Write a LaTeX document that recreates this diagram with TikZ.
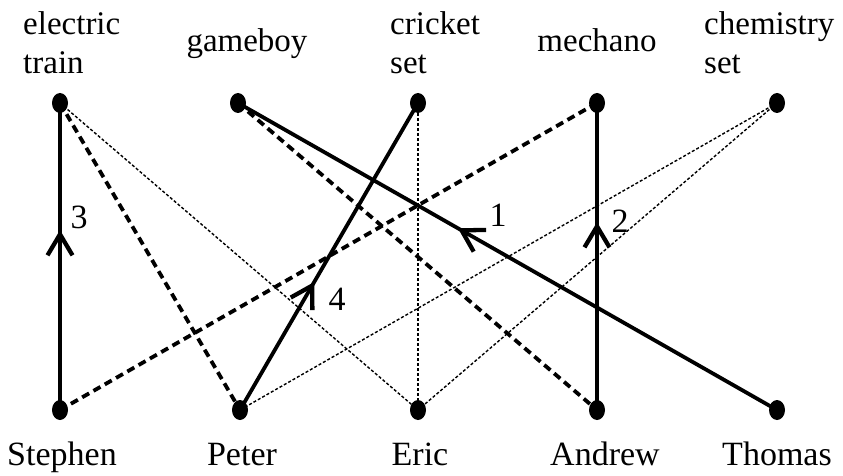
\documentclass[tikz,border=0pt]{standalone}
\usepackage{fontspec}
\setmainfont{Liberation Serif}
\usetikzlibrary{arrows.meta,decorations.markings,shapes.geometric}
\pgfdeclarelayer{bg}
\pgfsetlayers{bg,main}
\begin{document}
\begin{tikzpicture}[x=1pt,y=-1pt,
  dot/.style={ellipse,fill=black,minimum width=16pt,minimum height=20pt,inner sep=0pt},
  toplabel/.style={anchor=north west,inner sep=0pt,align=left,font=\fontsize{33}{39}\selectfont},
  midlabel/.style={anchor=base,inner sep=0pt,font=\fontsize{33}{39}\selectfont},
  botlabel/.style={anchor=base,inner sep=0pt,font=\fontsize{34}{40}\selectfont},
  num/.style={inner sep=0pt,font=\fontsize{34}{40}\selectfont},
  match/.style={line width=3.8pt},
  alt/.style={line width=3.8pt,dash pattern=on 8pt off 5pt},
  weak/.style={line width=1.4pt,dash pattern=on 3pt off 2pt},
  flow/.style={postaction={decorate},decoration={markings,mark=at position #1 with {\arrow{Straight Barb[length=21pt,width=25pt,line width=4.3pt]}}}}
]
\useasboundingbox (0,0) rectangle (843,476);

% toys
\node[dot] (et) at (60,103) {};
\node[dot] (gb) at (238,103) {};
\node[dot] (cs) at (418,103) {};
\node[dot] (me) at (597,103) {};
\node[dot] (ch) at (777,103) {};
% children
\node[dot] (st) at (60,410) {};
\node[dot] (pe) at (240,410) {};
\node[dot] (er) at (418,410) {};
\node[dot] (an) at (597,410) {};
\node[dot] (th) at (777,410) {};

% labels
\node[toplabel] (etl) at (23,11) {electric\\train};
\node[midlabel] (gbl) at (247,52) {gameboy};
\node[toplabel] (csl) at (390,11) {cricket\\set};
\node[midlabel] (mel) at (597,52) {mechano};
\node[toplabel] (chl) at (704,11) {chemistry\\set};

\node[botlabel] (stl) at (62,465) {Stephen};
\node[botlabel] (pel) at (242,465) {Peter};
\node[botlabel] (erl) at (420,465) {Eric};
\node[botlabel] (anl) at (605,465) {Andrew};
\node[botlabel] (thl) at (777,465) {Thomas};

\node[num] (n3) at (79,217) {3};
\node[num] (n1) at (498,215) {1};
\node[num] (n2) at (620,221) {2};
\node[num] (n4) at (337,299) {4};

\begin{pgfonlayer}{bg}
\draw[weak] (et.center) -- (er.center);
\draw[weak] (cs.center) -- (er.center);
\draw[weak] (ch.center) -- (pe.center);
\draw[weak] (ch.center) -- (er.center);
\draw[alt] (et.center) -- (pe.center);
\draw[alt] (gb.center) -- (an.center);
\draw[alt] (me.center) -- (st.center);
\draw[match,flow=0.586] (st.center) -- (et.center);
\draw[match,flow=0.592] (th.center) -- (gb.center);
\draw[match,flow=0.612] (an.center) -- (me.center);
\draw[match,flow=0.417] (pe.center) -- (cs.center);
\end{pgfonlayer}
\end{tikzpicture}
\end{document}
